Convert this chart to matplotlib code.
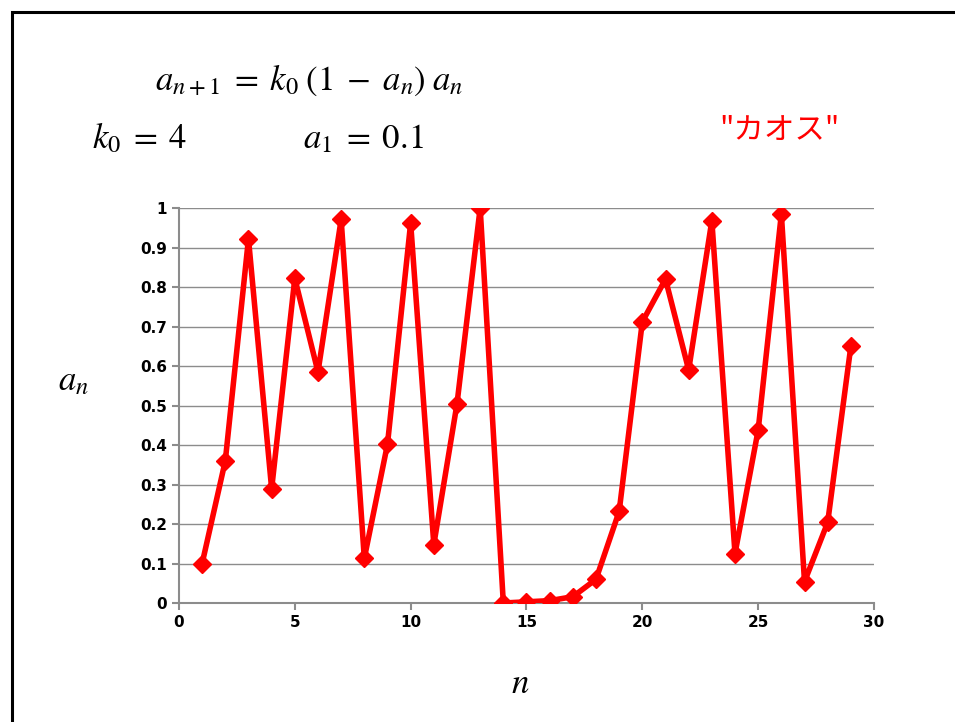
import matplotlib
matplotlib.use("Agg")
import matplotlib.pyplot as plt
from matplotlib.patches import Rectangle

# logistic map values (k0 = 4, a1 = 0.1)
n_vals = list(range(1, 30))
a_vals = [0.10, 0.36, 0.922, 0.289, 0.822, 0.585, 0.971, 0.113, 0.402, 0.962,
          0.148, 0.504, 1.00, 0.0, 0.003, 0.006, 0.016, 0.06, 0.232, 0.712,
          0.820, 0.590, 0.968, 0.125, 0.438, 0.985, 0.054, 0.204, 0.650]

x_ticks = [0, 5, 10, 15, 20, 25, 30]
y_ticks = [0, 0.1, 0.2, 0.3, 0.4, 0.5, 0.6, 0.7, 0.8, 0.9, 1]
y_labels = ['0', '0.1', '0.2', '0.3', '0.4', '0.5', '0.6', '0.7', '0.8', '0.9', '1']

plt.rcParams['mathtext.fontset'] = 'stix'

fig = plt.figure(figsize=(9.55, 7.22), dpi=100)
ax = fig.add_axes([0.1874, 0.1648, 0.7278, 0.5471])

ax.plot(n_vals, a_vals, color='#ff0000', lw=4, marker='D', ms=9,
        solid_joinstyle='round', zorder=3)

ax.set_xlim(0, 30)
ax.set_ylim(0, 1)
ax.set_xticks(x_ticks)
ax.set_yticks(y_ticks)
ax.set_yticklabels(y_labels)
ax.grid(axis='y', color='#8c8c8c', lw=1)
ax.set_axisbelow(True)
for s in ['top', 'right']:
    ax.spines[s].set_visible(False)
for s in ['left', 'bottom']:
    ax.spines[s].set_color('#8c8c8c')
    ax.spines[s].set_linewidth(1.5)
ax.tick_params(axis='both', colors='#8c8c8c', direction='out', length=5, width=1.5,
               labelcolor='black', labelsize=11)
for lbl in ax.get_xticklabels() + ax.get_yticklabels():
    lbl.set_fontweight('bold')

# axis labels
fig.text(73 / 955, 1 - 380 / 722, r'$a_n$', fontsize=25, ha='center', va='center')
fig.text(520 / 955, 1 - 683 / 722, r'$n$', fontsize=25, ha='center', va='center')

# equations
fig.text(309 / 955, 1 - 80 / 722, r'$a_{n+1}\;=\;k_0\;(1\;-\;a_n)\;a_n$', fontsize=25,
         ha='center', va='center')
fig.text(140 / 955, 1 - 138 / 722, r'$k_0\;=\;4$', fontsize=25, ha='center', va='center')
fig.text(363 / 955, 1 - 138 / 722, r'$a_1\;=\;0.1$', fontsize=25, ha='center', va='center')
fig.text(779 / 955, 1 - 130 / 722, '"カオス"', fontsize=22, color='#ff0000',
         ha='center', va='center', family=['Noto Sans CJK JP', 'DejaVu Sans'])

# slide frame
fig.add_artist(Rectangle((12 / 955, -0.2), 1.5, 1.2 - 12 / 722, transform=fig.transFigure,
                         fill=False, edgecolor='black', lw=2.2))

fig.savefig('out.png', dpi=100)
